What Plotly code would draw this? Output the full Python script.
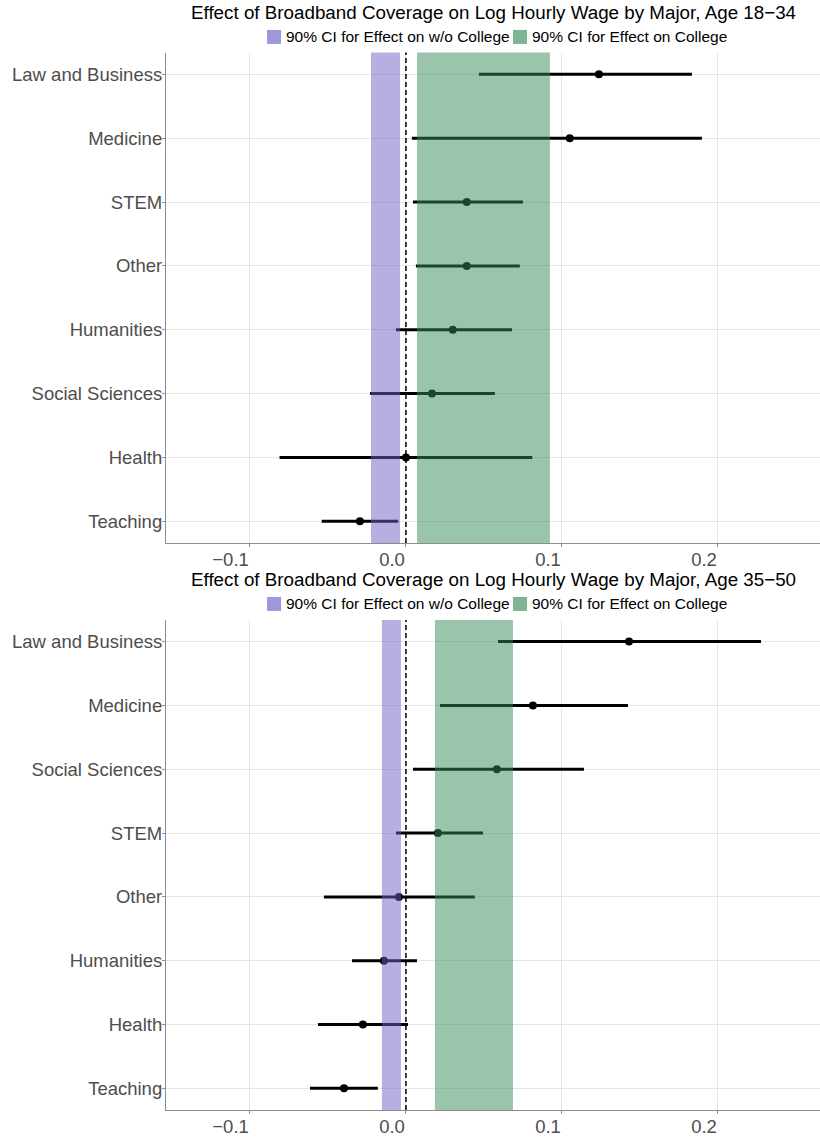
import plotly.graph_objects as go

# Age 18-34: majors listed top to bottom, point estimate with 90% CI
majors_young = ["Law and Business", "Medicine", "STEM", "Other",
                "Humanities", "Social Sciences", "Health", "Teaching"]
est_young = [0.1237, 0.105, 0.039, 0.039, 0.030, 0.0167, 0.0, -0.0295]
lo_young = [0.0468, 0.0038, 0.0045, 0.0064, -0.0064, -0.023, -0.081, -0.054]
hi_young = [0.1833, 0.1897, 0.075, 0.073, 0.068, 0.057, 0.081, -0.005]

# Age 35-50
majors_old = ["Law and Business", "Medicine", "Social Sciences", "STEM",
              "Other", "Humanities", "Health", "Teaching"]
est_old = [0.143, 0.0814, 0.0583, 0.0205, -0.0045, -0.0141, -0.0276, -0.0397]
lo_old = [0.059, 0.0218, 0.0045, -0.0064, -0.0526, -0.0346, -0.0564, -0.0615]
hi_old = [0.2276, 0.1423, 0.1141, 0.0494, 0.0442, 0.0071, 0.0013, -0.018]

# 90% CI bands for the pooled effects: [no college, college]
band_young_nocol = [-0.0224, -0.0038]
band_young_col = [0.0071, 0.0923]
band_old_nocol = [-0.0154, -0.0032]
band_old_col = [0.0186, 0.0686]

titles = ["Effect of Broadband Coverage on Log Hourly Wage by Major, Age 18\u221234",
          "Effect of Broadband Coverage on Log Hourly Wage by Major, Age 35\u221250"]
legend_labels = ["90% CI for Effect on w/o College", "90% CI for Effect on College"]
x_ticks = [-0.1, 0.0, 0.1, 0.2]
x_ticktext = ["\u22120.1", "0.0", "0.1", "0.2"]

PURPLE = "rgb(107,95,197)"
GREEN = "rgb(53,140,90)"
FONT = "Liberation Sans, Arial, sans-serif"
AXIS_GREY = "#8c8c8c"

W, H = 820, 1137
left_px = 166
top_dom = [1 - 544 / H, 1 - 52.7 / H]
bot_dom = [1 - 1112 / H, 1 - 621 / H]
xdom = [left_px / W, 1.0]
mid_x = (left_px + W) / 2 / W

fig = go.Figure()

# (data..., x axis, y axis, title row px, legend row px)
panels = [
    (majors_young, est_young, lo_young, hi_young, band_young_nocol, band_young_col,
     "x", "y", titles[0], 13, 37),
    (majors_old, est_old, lo_old, hi_old, band_old_nocol, band_old_col,
     "x2", "y2", titles[1], 581, 605),
]

shapes = []
annotations = []
# legend key layout: swatch left edge, text left edge (px)
key_swatch_x = [267, 513]
key_text_x = [284, 530]
key_size = 14

for majors, est, lo, hi, b_no, b_col, xa, ya, title, title_py, leg_py in panels:
    plus = [h - e for h, e in zip(hi, est)]
    minus = [e - l for e, l in zip(est, lo)]
    fig.add_trace(go.Scatter(
        x=est, y=majors, xaxis=xa, yaxis=ya, mode="markers",
        marker=dict(color="black", size=8),
        error_x=dict(type="data", symmetric=False, array=plus, arrayminus=minus,
                     color="black", thickness=3, width=0),
        showlegend=False, hoverinfo="skip"))

    yref_dom = ya + " domain"
    shapes.append(dict(type="line", xref=xa, yref=yref_dom, x0=0, x1=0, y0=0, y1=1,
                       line=dict(color="black", width=1.5, dash="5px,3px"), layer="above"))
    for band, col in [(b_no, PURPLE), (b_col, GREEN)]:
        shapes.append(dict(type="rect", xref=xa, yref=yref_dom, x0=band[0], x1=band[1],
                           y0=0, y1=1, fillcolor=col, opacity=0.5,
                           line=dict(width=0), layer="above"))

    annotations.append(dict(text=title, xref="paper", yref="paper", x=mid_x,
                            y=1 - title_py / H, xanchor="center", yanchor="middle",
                            showarrow=False,
                            font=dict(family=FONT, size=18.8, color="black")))

    # legend keys
    for label, col, sx, tx in zip(legend_labels, [PURPLE, GREEN], key_swatch_x, key_text_x):
        shapes.append(dict(type="rect", xref="paper", yref="paper",
                           x0=sx / W, x1=(sx + key_size) / W,
                           y0=1 - (leg_py + key_size / 2) / H,
                           y1=1 - (leg_py - key_size / 2) / H,
                           fillcolor=col, opacity=0.65, line=dict(width=0)))
        annotations.append(dict(text=label, xref="paper", yref="paper", x=tx / W,
                                y=1 - leg_py / H, xanchor="left", yanchor="middle",
                                showarrow=False,
                                font=dict(family=FONT, size=15.5, color="black")))

xaxis_common = dict(
    range=[-0.1538, 0.2654], tickvals=x_ticks, ticktext=x_ticktext,
    ticklabelposition="outside left",
    showgrid=True, gridcolor="#e6e6e6", gridwidth=1, zeroline=False,
    showline=True, linecolor=AXIS_GREY, linewidth=1.2,
    ticks="outside", ticklen=3, tickcolor=AXIS_GREY, tickwidth=1,
    tickfont=dict(family=FONT, size=18.5, color="#4d4d4d"), domain=xdom)


def yaxis_for(majors, dom, anchor):
    return dict(
        type="category", categoryorder="array", categoryarray=list(reversed(majors)),
        range=[-0.34, len(majors) - 1 + 0.34], domain=dom, anchor=anchor,
        showgrid=True, gridcolor="#e6e6e6", gridwidth=1, zeroline=False,
        showline=True, linecolor=AXIS_GREY, linewidth=1.2,
        ticks="outside", ticklen=3, tickcolor=AXIS_GREY, tickwidth=1,
        ticklabelstandoff=-4,
        tickfont=dict(family=FONT, size=18.5, color="#4d4d4d"))


fig.update_layout(
    width=W, height=H, autosize=False,
    margin=dict(l=0, r=0, t=0, b=0),
    paper_bgcolor="white", plot_bgcolor="white",
    showlegend=False,
    xaxis=dict(**xaxis_common, anchor="y"),
    yaxis=yaxis_for(majors_young, top_dom, "x"),
    xaxis2=dict(**xaxis_common, anchor="y2"),
    yaxis2=yaxis_for(majors_old, bot_dom, "x2"),
    shapes=shapes,
    annotations=annotations,
)

fig.write_html("out.html")
